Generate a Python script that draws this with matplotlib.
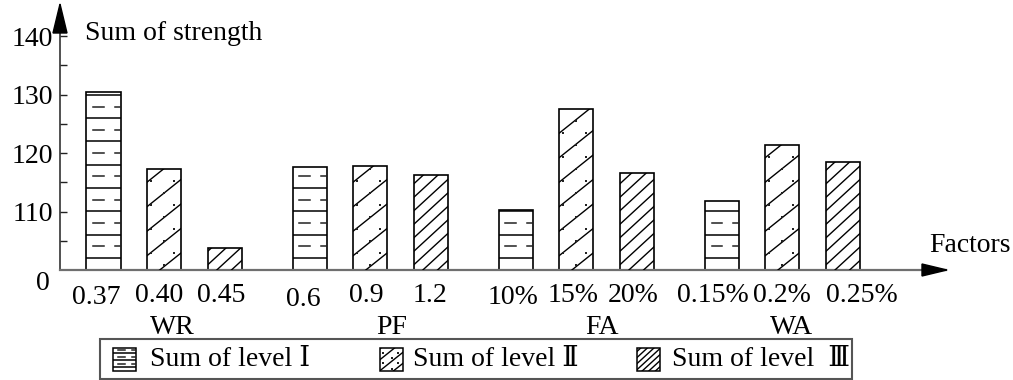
import numpy as np
import matplotlib
matplotlib.use("Agg")
import matplotlib.pyplot as plt
from matplotlib.transforms import IdentityTransform
from matplotlib.patches import Rectangle, Polygon
from matplotlib.lines import Line2D

# ---------------- data ----------------
factors = ["WR", "PF", "FA", "WA"]
level_labels = ["0.37", "0.40", "0.45", "0.6", "0.9", "1.2",
                "10%", "15%", "20%", "0.15%", "0.2%", "0.25%"]
sum_strength = [130.5, 117.3, 103.7, 117.6, 117.8, 116.2,
                110.2, 127.5, 116.6, 111.8, 121.3, 118.4]
bar_levels = ["I", "II", "III"] * 4
y_ticks = [110, 120, 130, 140]
legend_labels = ["Sum of level Ⅰ", "Sum of level Ⅱ", "Sum of level  Ⅲ"]

FONT = ["Liberation Serif", "DejaVu Serif", "Noto Sans CJK SC"]
plt.rcParams["font.family"] = FONT
FS = 20

# small hand-placement nudges of the labels (pixels), as in the reference
label_dx = [-7, -5, -3, -6, -4, -1, -3, -3, -4, -9, 0, 19]
label_dy = [-28, -25, -25, -29, -25, -25, -27, -25, -25, -26, -26, -26]
group_dx = [8, 22, 26, 9]

W, H = 1013, 380
fig = plt.figure(figsize=(W / 100, H / 100), dpi=100)
ID = IdentityTransform()

def R(y):  # reference (top-origin) -> display
    return H - y

# axes: left x=60, baseline y=270, top y=5, right x=946
ax = fig.add_axes([60 / W, (H - 270) / H, (946 - 60) / W, 265 / H])
base = 100.0
ax.set_ylim(base, 145.3)
ax.set_xlim(-0.72, 13.92)

group_step = 3.405
xpos = []
for g in range(len(factors)):
    for i in range(3):
        xpos.append(g * group_step + i)
xpos = np.array(xpos)

bars = ax.bar(xpos, np.array(sum_strength) - base, bottom=base, width=0.565,
              facecolor="white", edgecolor="black", linewidth=1.2, zorder=3)

for s in ["top", "right"]:
    ax.spines[s].set_visible(False)
ax.spines["left"].set_color("#222222")
ax.spines["left"].set_linewidth(1.1)
ax.spines["bottom"].set_color("#6f6f6f")
ax.spines["bottom"].set_linewidth(1.6)
ax.spines["bottom"].set_zorder(5)

ax.set_yticks(y_ticks)
ax.set_yticks([t - 5 for t in y_ticks], minor=True)
ax.set_yticklabels([str(t) for t in y_ticks], fontsize=FS)
ax.tick_params(axis="y", which="both", direction="in", length=5, width=1,
               color="#222222", pad=5)
ax.set_xticks([])

# hatching in pixel space ------------------------------------------------
fig.canvas.draw()

def seg(x0, y0, x1, y1, clip, lw=1.0, color="black", ls="-"):
    ln = Line2D([x0, x1], [y0, y1], transform=ID, color=color, lw=lw,
                linestyle=ls, zorder=4)
    ln.set_clip_path(clip)
    fig.add_artist(ln)

def dot(x, y, clip):
    ln = Line2D([x], [y], transform=ID, marker="s", markersize=1.6,
                markeredgewidth=0, color="#222222", linestyle="none", zorder=4)
    ln.set_clip_path(clip)
    fig.add_artist(ln)

def hatch(x0, y0, x1, y1, kind, clip, sc=1.0):
    w = x1 - x0
    if kind == "I":
        sp = 23.3 * sc
        y = y0 + 12 * sc
        while y < y1 + 0.5:
            seg(x0, y, x1, y, clip, lw=1.1)
            yd = y + sp / 2
            if yd < y1 - 1:
                d0 = x0 + 0.2 * w
                seg(d0, yd, d0 + 0.3 * w, yd, clip, lw=1.1, color="#222222")
                seg(d0 + 0.62 * w, yd, x1, yd, clip, lw=1.1, color="#222222")
            y += sp
    elif kind in ("II", "III"):
        if kind == "II":
            slope, sp = 0.8, 24.5 * sc
        else:
            slope, sp = 0.92, 13.5 * sc
        c = y0 - slope * w - sp * 0.3
        while c < y1 + sp:
            seg(x0, c, x1, c + slope * w, clip, lw=1.0)
            c += sp
        if kind == "II":
            rsp = 12.0 * sc
            y = y0 + 5 * sc
            k = 0
            while y < y1 - 2:
                if k % 2 == 0:
                    dot(x0 + 0.5 * w, y, clip)
                else:
                    dot(x0 + 0.12 * w, y, clip)
                    dot(x0 + 0.8 * w, y, clip)
                y += rsp
                k += 1

for b, lv in zip(bars, bar_levels):
    bb = b.get_window_extent()
    hatch(bb.x0, bb.y0, bb.x1, bb.y1, lv, b)

# category labels
for x, lab, dx, dy in zip(xpos, level_labels, label_dx, label_dy):
    ax.annotate(lab, xy=(x, 0), xycoords=("data", "axes fraction"),
                xytext=(dx, dy), textcoords="offset pixels",
                ha="center", va="center", fontsize=FS)
for g, (f, dx) in enumerate(zip(factors, group_dx)):
    ax.annotate(f, xy=(g * group_step + 1, 0), xycoords=("data", "axes fraction"),
                xytext=(dx, -58), textcoords="offset pixels",
                ha="center", va="center", fontsize=FS)

ax.annotate("0", xy=(0, 0), xycoords="axes fraction", xytext=(-17, -14),
            textcoords="offset pixels", ha="center", va="center", fontsize=FS)

# arrows
fig.add_artist(Polygon([[53, R(33)], [67, R(33)], [60, R(4)]], closed=True,
                       transform=ID, facecolor="black", edgecolor="black", zorder=6))
fig.add_artist(Polygon([[922, R(264)], [922, R(276)], [947, R(270)]], closed=True,
                       transform=ID, facecolor="black", edgecolor="black", zorder=6))

fig.text(85, R(33), "Sum of strength", transform=ID, ha="left", va="center",
         fontsize=FS)
fig.text(929, R(245), "Factors", transform=ID, ha="left", va="center", fontsize=FS)

# legend (drawn manually)
lbox = Rectangle((100, R(379)), 752, 40, transform=ID, facecolor="white",
                 edgecolor="#555555", lw=1.5, zorder=2)
fig.add_artist(lbox)
patch_x = [113, 380, 637]
text_x = [150, 413, 672]
for px, tx, lv, lab in zip(patch_x, text_x, ["I", "II", "III"], legend_labels):
    r = Rectangle((px, R(371)), 23, 23, transform=ID, facecolor="white",
                  edgecolor="black", lw=1.1, zorder=3)
    fig.add_artist(r)
    hatch(px, R(371), px + 23, R(348), lv, r, sc=0.3 if lv == "I" else 0.45)
    fig.text(tx, R(360), lab, transform=ID, ha="left", va="center", fontsize=FS)

fig.savefig("out.png", dpi=100)
